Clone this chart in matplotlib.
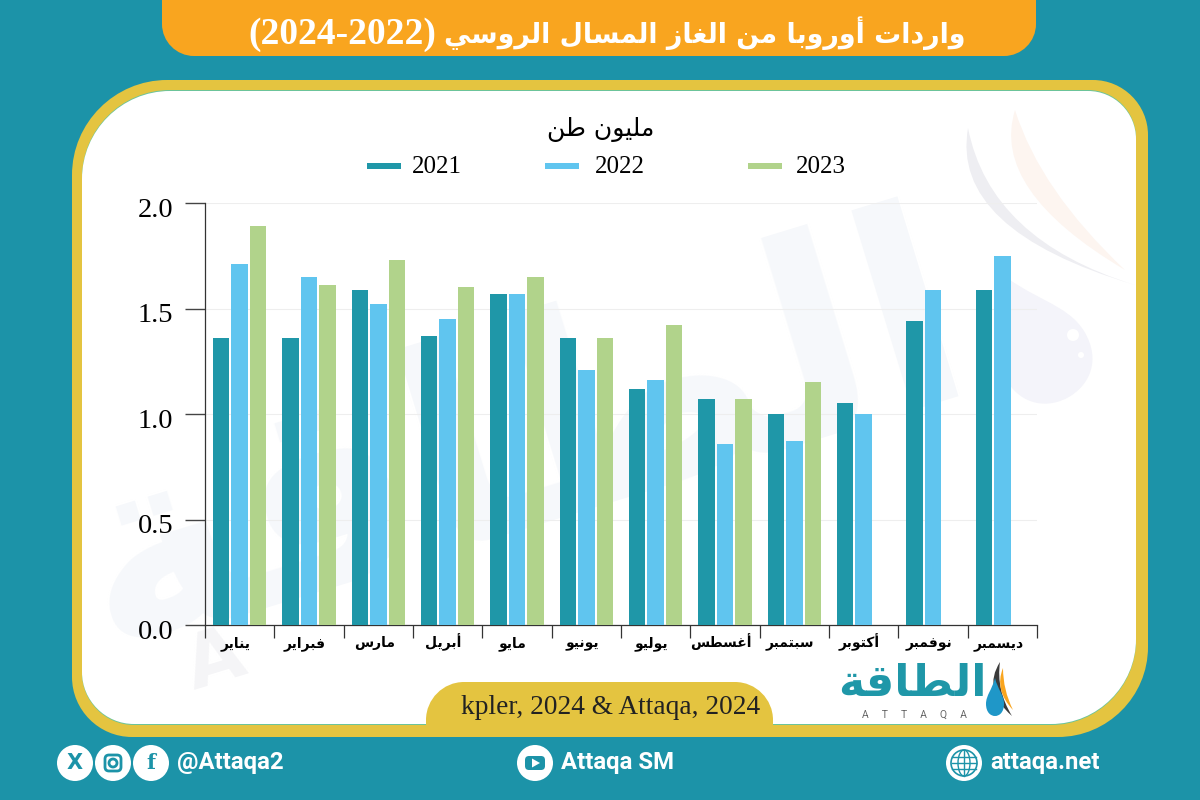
import numpy as np
import matplotlib
matplotlib.use("Agg")
import matplotlib.pyplot as plt
from matplotlib.path import Path
from matplotlib.patches import PathPatch, Circle, Ellipse, Rectangle, Polygon, FancyBboxPatch
from matplotlib.transforms import Affine2D, ScaledTranslation

# Chart data
months = ["يناير", "فبراير", "مارس", "أبريل", "مايو", "يونيو", "يوليو", "أغسطس", "سبتمبر", "أكتوبر", "نوفمبر", "ديسمبر"]
years = ["2021", "2022", "2023"]
values_2021 = [1.36, 1.36, 1.59, 1.37, 1.57, 1.36, 1.12, 1.07, 1.00, 1.05, 1.44, 1.59]
values_2022 = [1.71, 1.65, 1.52, 1.45, 1.57, 1.21, 1.16, 0.86, 0.87, 1.00, 1.59, 1.75]
values_2023 = [1.89, 1.61, 1.73, 1.60, 1.65, 1.36, 1.42, 1.07, 1.15, np.nan, np.nan, np.nan]
y_ticks = [0.0, 0.5, 1.0, 1.5, 2.0]

title_text = "واردات أوروبا من الغاز المسال الروسي"
title_years = "(2024-2022)"
unit_text = "مليون طن"
logo_text = "الطاقة"
source_text = "kpler, 2024 & Attaqa, 2024"

TEAL = "#1C93A8"
BAR1 = "#1F97A8"
BAR2 = "#60C5EF"
BAR3 = "#B1D38B"
GOLD = "#E4C440"
ORANGE = "#F9A51F"

# matplotlib does no Arabic shaping, so map letters to presentation forms
FORMS = {
    "ا": (0xFE8D, 0xFE8E), "أ": (0xFE83, 0xFE84), "د": (0xFEA9, 0xFEAA), "ر": (0xFEAD, 0xFEAE),
    "ز": (0xFEAF, 0xFEB0), "و": (0xFEED, 0xFEEE), "ة": (0xFE93, 0xFE94),
    "ب": (0xFE8F, 0xFE90, 0xFE91, 0xFE92), "ت": (0xFE95, 0xFE96, 0xFE97, 0xFE98),
    "س": (0xFEB1, 0xFEB2, 0xFEB3, 0xFEB4), "ط": (0xFEC1, 0xFEC2, 0xFEC3, 0xFEC4),
    "غ": (0xFECD, 0xFECE, 0xFECF, 0xFED0), "ف": (0xFED1, 0xFED2, 0xFED3, 0xFED4),
    "ق": (0xFED5, 0xFED6, 0xFED7, 0xFED8), "ك": (0xFED9, 0xFEDA, 0xFEDB, 0xFEDC),
    "ل": (0xFEDD, 0xFEDE, 0xFEDF, 0xFEE0), "م": (0xFEE1, 0xFEE2, 0xFEE3, 0xFEE4),
    "ن": (0xFEE5, 0xFEE6, 0xFEE7, 0xFEE8), "ي": (0xFEF1, 0xFEF2, 0xFEF3, 0xFEF4),
}


def shape(text):
    out = []
    for i, ch in enumerate(text):
        if ch not in FORMS:
            out.append(ch)
            continue
        prev = text[i - 1] if i > 0 else " "
        nxt = text[i + 1] if i + 1 < len(text) else " "
        joins_prev = prev in FORMS and len(FORMS[prev]) == 4
        joins_next = len(FORMS[ch]) == 4 and nxt in FORMS
        if joins_prev and joins_next:
            out.append(chr(FORMS[ch][3]))
        elif joins_next:
            out.append(chr(FORMS[ch][2]))
        elif joins_prev:
            out.append(chr(FORMS[ch][1]))
        else:
            out.append(chr(FORMS[ch][0]))
    return "".join(out)[::-1]


def round_box(x0, y0, x1, y1, tl, tr, br, bl):
    # box in pixel coords (y down), each corner with its own radius
    k = 0.45
    verts = [(x0 + tl, y0), (x1 - tr, y0),
             (x1 - tr * k, y0), (x1, y0 + tr * k), (x1, y0 + tr),
             (x1, y1 - br),
             (x1, y1 - br * k), (x1 - br * k, y1), (x1 - br, y1),
             (x0 + bl, y1),
             (x0 + bl * k, y1), (x0, y1 - bl * k), (x0, y1 - bl),
             (x0, y0 + tl),
             (x0, y0 + tl * k), (x0 + tl * k, y0), (x0 + tl, y0)]
    codes = [Path.MOVETO, Path.LINETO,
             Path.CURVE4, Path.CURVE4, Path.CURVE4,
             Path.LINETO,
             Path.CURVE4, Path.CURVE4, Path.CURVE4,
             Path.LINETO,
             Path.CURVE4, Path.CURVE4, Path.CURVE4,
             Path.LINETO,
             Path.CURVE4, Path.CURVE4, Path.CURVE4]
    return Path(verts, codes)


def drop_path(cx, top, bottom, half):
    h = bottom - top
    return Path([(cx, top),
                 (cx + half * 0.3, top + h * 0.3), (cx + half, top + h * 0.45), (cx + half, top + h * 0.68),
                 (cx + half, bottom - h * 0.1), (cx + half * 0.5, bottom), (cx, bottom),
                 (cx - half * 0.5, bottom), (cx - half, bottom - h * 0.1), (cx - half, top + h * 0.68),
                 (cx - half, top + h * 0.45), (cx - half * 0.3, top + h * 0.3), (cx, top)],
                [Path.MOVETO] + [Path.CURVE4] * 12)


def swoosh(p0, c0, p1, c1):
    # crescent between two curves sharing their end points
    return Path([p0, c0, p1, c1, p0],
                [Path.MOVETO, Path.CURVE3, Path.CURVE3, Path.CURVE3, Path.CURVE3])


fig = plt.figure(figsize=(12, 8), dpi=100, facecolor=TEAL)

# Background layer in pixel coordinates
bg = fig.add_axes([0, 0, 1, 1], zorder=0)
bg.set_xlim(0, 1200)
bg.set_ylim(800, 0)
bg.axis("off")

bg.add_patch(PathPatch(round_box(162, -20, 1036, 56, 0, 0, 32, 32), fc=ORANGE, ec="none"))
bg.add_patch(PathPatch(round_box(72, 80, 1148, 737, 95, 55, 90, 60), fc=GOLD, ec="none"))
bg.add_patch(PathPatch(round_box(82, 90, 1136, 725, 88, 48, 85, 52), fc="#6CC49A", ec="none"))
bg.add_patch(PathPatch(round_box(82, 91, 1136, 724, 88, 48, 85, 52), fc="white", ec="none"))

# Pale watermark
bg.text(520, 445, shape(logo_text), family="DejaVu Sans", weight="bold", fontsize=198,
        color="#F6F8FB", rotation=17, ha="center", va="center", rotation_mode="anchor")
bg.text(215, 662, "A", family="DejaVu Sans", weight="bold", fontsize=54, color="#F5F5F7",
        rotation=17, ha="center", va="center")
bg.add_patch(PathPatch(swoosh((968, 128), (950, 230), (1135, 285), (990, 240)), fc="#EEEEF2", ec="none"))
bg.add_patch(PathPatch(swoosh((1015, 110), (990, 190), (1125, 270), (1040, 190)), fc="#FDF5F0", ec="none"))
drop_tf = Affine2D().rotate_deg_around(1039, 345, -30)
bg.add_patch(PathPatch(drop_path(1039, 255, 405, 46), fc="#F4F4FA", ec="none",
                       transform=drop_tf + bg.transData))
bg.add_patch(Circle((1073, 335), 6, fc="white", ec="none"))
bg.add_patch(Circle((1081, 355), 3, fc="white", ec="none"))

# Title
bg.text(965, 33, shape(title_text), family="DejaVu Sans", weight="bold",
        fontsize=19.4, color="white", ha="right", va="center")
bg.text(436, 35, title_years, family="Liberation Serif", weight="bold",
        fontsize=27, color="white", ha="right", va="center")

# Unit and legend
bg.text(601, 129, shape(unit_text), family="DejaVu Sans", fontsize=18, color="black", ha="center", va="center")
legend_x = [367, 545, 748]
legend_label_x = [412, 595, 796]
legend_colors = [BAR1, BAR2, BAR3]
for lx, tx, year, col in zip(legend_x, legend_label_x, years, legend_colors):
    bg.add_patch(Rectangle((lx, 163), 34, 6, fc=col, ec="none"))
    bg.text(tx, 167, year, family="Liberation Serif", fontsize=18, color="black", ha="left", va="center")

# Source tab
bg.add_patch(PathPatch(round_box(426, 682, 773, 726, 38, 38, 0, 0), fc=GOLD, ec="none"))
bg.text(611, 708, source_text, family="Liberation Serif", fontsize=19.7, color="#222222", ha="center", va="center")

# Logo
bg.text(912, 684, shape(logo_text), family="DejaVu Sans", weight="bold", fontsize=32, color="#1F97A8",
        ha="center", va="center")
bg.text(914, 715, "A     T     T     A     Q     A", family="Roboto", fontsize=7.5, color="#666666",
        ha="center", va="center")
bg.add_patch(PathPatch(swoosh((1000, 662), (982, 690), (1012, 716), (996, 690)), fc="#3A3A3A", ec="none"))
bg.add_patch(PathPatch(swoosh((1003, 668), (994, 690), (1013, 710), (1003, 690)), fc="#F9A51F", ec="none"))
bg.add_patch(PathPatch(drop_path(995, 678, 716, 9), fc="#1F97C8", ec="none"))

# Footer icons and handles
for cx, mark, fam in [(75, "X", "DejaVu Sans"), (151, "f", "DejaVu Serif")]:
    bg.add_patch(Circle((cx, 763), 18, fc="white", ec="none"))
    bg.text(cx, 763, mark, family=fam, weight="bold", fontsize=15, color=TEAL, ha="center", va="center")
bg.add_patch(Circle((113, 763), 18, fc="white", ec="none"))
bg.add_patch(FancyBboxPatch((105, 755), 16, 16, boxstyle="round,pad=0,rounding_size=4", fc="none", ec=TEAL, lw=2))
bg.add_patch(Circle((113, 763), 4, fc="none", ec=TEAL, lw=2))

bg.add_patch(Circle((535, 763), 18, fc="white", ec="none"))
bg.add_patch(FancyBboxPatch((525, 756), 20, 14, boxstyle="round,pad=0,rounding_size=4", fc=TEAL, ec="none"))
bg.add_patch(Polygon([(532, 758.5), (532, 767.5), (540, 763)], fc="white", ec="none"))

bg.add_patch(Circle((964, 763), 18, fc="white", ec="none"))
bg.add_patch(Circle((964, 763), 13, fc="none", ec=TEAL, lw=1.2))
for dy in [-6, 0, 6]:
    bg.plot([952, 976], [763 + dy, 763 + dy], color=TEAL, lw=1)
bg.plot([964, 964], [750, 776], color=TEAL, lw=1)
bg.add_patch(Ellipse((964, 763), 12, 26, fc="none", ec=TEAL, lw=1))

for tx, label in [(177, "@Attaqa2"), (561, "Attaqa SM"), (990, "attaqa.net")]:
    bg.text(tx, 763, label, family="Roboto", weight="bold", fontsize=17.2, color="white", ha="left", va="center")

# The chart itself
ax = fig.add_axes([205 / 1200, 175 / 800, 832 / 1200, 422 / 800], zorder=1)
ax.patch.set_alpha(0)
x = np.arange(len(months))
pitch = 0.267
width = 0.24
for off, vals, col in zip([-pitch, 0, pitch], [values_2021, values_2022, values_2023], legend_colors):
    ax.bar(x + off, vals, width=width, color=col, zorder=3)

ax.set_xlim(-0.5, 11.5)
ax.set_ylim(0, 2)
ax.set_yticks(y_ticks)
ax.set_yticklabels([f"{v:.1f}" for v in y_ticks], family="Liberation Serif", fontsize=20.5)
ax.tick_params(axis="y", length=14.5, width=1.0, color="#444444", pad=8.5)
ax.grid(axis="y", color="#EEEEEE", lw=0.8, zorder=0)
for lab in ax.get_yticklabels():
    lab.set_transform(lab.get_transform() + ScaledTranslation(0, -3 / 72, fig.dpi_scale_trans))

ax.set_xticks(x)
ax.set_xticklabels([shape(m) for m in months], family="DejaVu Sans", weight="bold", fontsize=10, va="baseline")
ax.set_xticks(np.arange(-0.5, 12), minor=True)
ax.tick_params(axis="x", which="major", length=0, pad=16)
ax.tick_params(axis="x", which="minor", length=9, width=0.9, color="#333333")
for lab in ax.get_xticklabels():
    lab.set_transform(lab.get_transform() + ScaledTranslation(-3 / 72, 0, fig.dpi_scale_trans))

for side in ["top", "right"]:
    ax.spines[side].set_visible(False)
ax.spines["left"].set_color("#333333")
ax.spines["left"].set_linewidth(0.9)
ax.spines["bottom"].set_color("#333333")
ax.spines["bottom"].set_linewidth(0.9)

fig.savefig("out.png", dpi=100, facecolor=TEAL)
